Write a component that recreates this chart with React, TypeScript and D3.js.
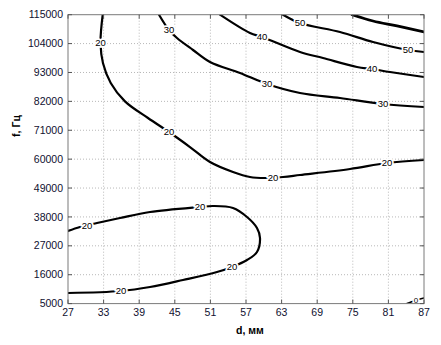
import React from "react";
import * as d3 from "d3";

const X_TICKS = [27, 33, 39, 45, 51, 57, 63, 69, 75, 81, 87];
const Y_TICKS = [5000, 16000, 27000, 38000, 49000, 60000, 71000, 82000, 93000, 104000, 115000];

type P = [number, number];

// Contour level 20 (upper branch)
const c20upper: P[] = [
  [32.85, 115000], [32.48, 104200], [32.9, 96500], [34.2, 89000], [36.6, 82000],
  [40.48, 75670], [44.02, 70340], [47.56, 64620], [50.93, 58910], [54.81, 55110],
  [57.67, 53200], [60.2, 52820], [63.24, 53200], [66.1, 53960], [74.53, 56250],
  [80.77, 58530], [87, 59680],
];
const c20upperLabels: P[] = [[32.48, 104200], [44.02, 70340], [61.55, 52820], [80.77, 58530]];

// Contour level 30
const c30: P[] = [
  [42.34, 115000], [44.02, 109170], [45.37, 106130], [48.07, 101560], [50.93, 96990],
  [55.99, 92800], [60.54, 88610], [66.1, 85190], [72.84, 83280], [80.09, 81000], [87, 79860],
];
const c30Labels: P[] = [[44.02, 109170], [60.54, 88610], [80.09, 81000]];

// Contour level 40
const c40: P[] = [
  [52.62, 115000], [57.67, 108030], [59.7, 106510], [66.1, 100800], [69.98, 98510],
  [75.71, 95090], [78.24, 94330], [81.27, 93180], [87, 91280],
];
const c40Labels: P[] = [[59.7, 106510], [78.24, 94330]];

// Contour level 50
const c50: P[] = [
  [63.24, 115000], [66.1, 111840], [72.84, 108410], [78.41, 104600], [84.31, 101560], [87, 100800],
];
const c50Labels: P[] = [[66.1, 111840], [84.31, 101560]];

// Upper-right contour (dense levels)
const c60: P[] = [[74.87, 115000], [78.41, 112600], [82.45, 110700], [87, 108410]];

// Contour level 20 (lower loop)
const c20lower: P[] = [
  [27, 32640], [29.02, 34170], [31.89, 35690], [35.76, 37590], [40.82, 39880],
  [49.25, 41780], [51.44, 42160], [54.81, 41400], [57.17, 37970], [58.85, 33790],
  [59.36, 29980], [58.85, 24650], [57.17, 21600], [54.64, 18940], [52.11, 17030],
  [46.38, 13990], [40.82, 11320], [35.93, 9800], [27, 9040],
];
const c20lowerLabels: P[] = [[30.2, 34740], [49.25, 41780], [54.64, 18940], [35.93, 9800]];

// Tiny contour at bottom right
const c0: P[] = [[84.13, 5000], [84.8, 5610], [85.66, 6300], [87, 7130]];
const c0Labels: P[] = [[85.66, 6300]];

const W = 441;
const H = 345;
const L = 68, R = 424, T = 14.7, B = 303.6;

export default function App() {
  const x = d3.scaleLinear().domain([27, 87]).range([L, R]);
  const y = d3.scaleLinear().domain([5000, 115000]).range([B, T]);
  const line = d3
    .line<P>()
    .x((d) => x(d[0]))
    .y((d) => y(d[1]))
    .curve(d3.curveCatmullRom.alpha(0.5));

  const font = "Arial, 'Liberation Sans', sans-serif";
  const contours: { pts: P[]; labels: P[]; text: string; w: number }[] = [
    { pts: c20upper, labels: c20upperLabels, text: "20", w: 2.2 },
    { pts: c30, labels: c30Labels, text: "30", w: 2.2 },
    { pts: c40, labels: c40Labels, text: "40", w: 2.2 },
    { pts: c50, labels: c50Labels, text: "50", w: 2.2 },
    { pts: c60, labels: [], text: "", w: 2.8 },
    { pts: c20lower, labels: c20lowerLabels, text: "20", w: 2.2 },
    { pts: c0, labels: c0Labels, text: "0", w: 1.6 },
  ];

  return (
    <svg
      width={W}
      height={H}
      style={{ position: "absolute", left: 0, top: 0, background: "#fff" }}
    >
      <defs>
        <clipPath id="plot">
          <rect x={L} y={T} width={R - L} height={B - T} />
        </clipPath>
      </defs>
      <rect x={0} y={0} width={W} height={H} fill="#fff" />
      {/* grid */}
      {X_TICKS.slice(1, -1).map((t) => (
        <line key={"gx" + t} x1={x(t)} x2={x(t)} y1={T} y2={B} stroke="#b8b8b8" strokeWidth={1} strokeDasharray="1,2" />
      ))}
      {Y_TICKS.slice(1, -1).map((t) => (
        <line key={"gy" + t} x1={L} x2={R} y1={y(t)} y2={y(t)} stroke="#b8b8b8" strokeWidth={1} strokeDasharray="1,2" />
      ))}
      {/* contours */}
      <g clipPath="url(#plot)">
        {contours.map((c, i) => (
          <path key={"c" + i} d={line(c.pts) || ""} fill="none" stroke="#000" strokeWidth={c.w} strokeLinejoin="round" strokeLinecap="round" />
        ))}
        {contours.map((c, i) =>
          c.labels.map((p, j) => (
            <text
              key={"l" + i + "-" + j}
              x={x(p[0])}
              y={y(p[1])}
              dy="0.35em"
              textAnchor="middle"
              fontFamily={font}
              fontSize={c.text === "0" ? 8 : 9.5}
              fill="#000"
              stroke="#fff"
              strokeWidth={3.5}
              style={{ paintOrder: "stroke" }}
            >
              {c.text}
            </text>
          ))
        )}
      </g>
      {/* axes box */}
      <rect x={L} y={T} width={R - L} height={B - T} fill="none" stroke="#7a7a7a" strokeWidth={1} />
      {/* ticks */}
      {X_TICKS.map((t) => (
        <g key={"tx" + t}>
          <line x1={x(t)} x2={x(t)} y1={B} y2={B - 4} stroke="#555" />
          <line x1={x(t)} x2={x(t)} y1={T} y2={T + 4} stroke="#555" />
          <text x={x(t)} y={316} textAnchor="middle" fontFamily={font} fontSize={10.5} fill="#101030">
            {t}
          </text>
        </g>
      ))}
      {Y_TICKS.map((t) => (
        <g key={"ty" + t}>
          <line x1={L} x2={L + 4} y1={y(t)} y2={y(t)} stroke="#555" />
          <line x1={R} x2={R - 4} y1={y(t)} y2={y(t)} stroke="#555" />
          <text x={63} y={y(t)} dy="0.35em" textAnchor="end" fontFamily={font} fontSize={10.5} fill="#101030">
            {t}
          </text>
        </g>
      ))}
      {/* axis labels */}
      <text x={250} y={334} textAnchor="middle" fontFamily={font} fontSize={10.5} fontWeight="bold" fill="#000">
        d, мм
      </text>
      <text
        transform="translate(20,126) rotate(-90)"
        textAnchor="middle"
        fontFamily={font}
        fontSize={10.5}
        fontWeight="bold"
        fill="#000"
      >
        f, Гц
      </text>
    </svg>
  );
}
